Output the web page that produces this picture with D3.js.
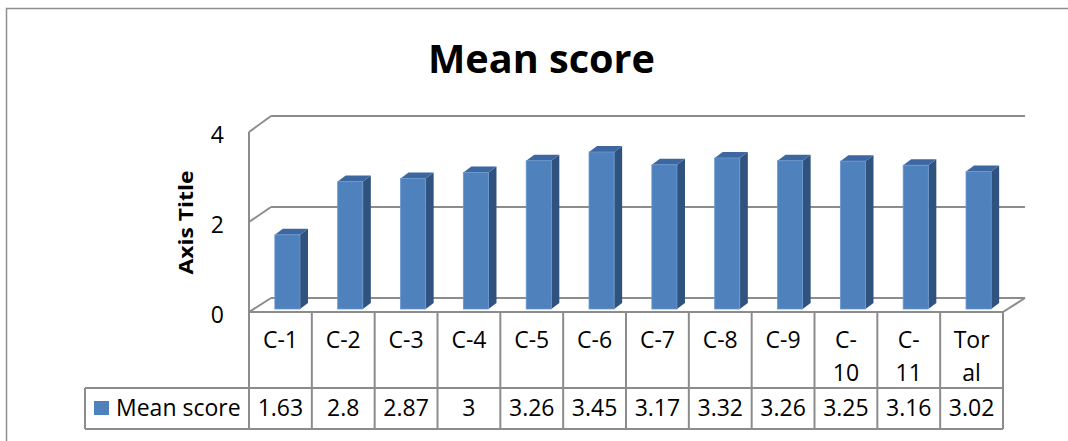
<!DOCTYPE html>
<html><head><meta charset="utf-8">
<script src="https://cdn.jsdelivr.net/npm/d3@7"></script>
<style>html,body{margin:0;padding:0;background:#fff;}svg{display:block;}</style>
</head><body>
<svg id="chart" width="1068" height="441"></svg>
<script>
const categories = ["C-1","C-2","C-3","C-4","C-5","C-6","C-7","C-8","C-9","C-10","C-11","Toral"];
const categoryLabels = ["C-1","C-2","C-3","C-4","C-5","C-6","C-7","C-8","C-9","C-\n10","C-\n11","Tor\nal"];
const meanScore = [1.63, 2.8, 2.87, 3, 3.26, 3.45, 3.17, 3.32, 3.26, 3.25, 3.16, 3.02];
const yTicks = [0, 2, 4];
const seriesName = "Mean score";
const chartTitle = "Mean score";
const axisTitle = "Axis Title";

(function () {
const svg = d3.select("#chart");
const font = "'Open Sans', 'Noto Sans', sans-serif";
const fs = 23;
const gridColor = "#8c8c8c";
const blue = "#4F81BD", sideColor = "#30527F", topColor = "#3D67A1";

svg.append("rect").attr("x", 6.5).attr("y", 8.5).attr("width", 1080).attr("height", 450)
  .attr("fill", "#fff").attr("stroke", "#8f8f8f").attr("stroke-width", 1.5);

const x = d3.scaleBand().domain(categories).range([249, 1003]).padding(0);
const yFront = d3.scaleLinear().domain([0, 4]).range([312, 132]);
const yBack = d3.scaleLinear().domain([0, 4]).range([298, 116]);
const yBar = d3.scaleLinear().domain([0, 4]).range([309, 127]);
const dx = 22;
const xLeft = x.range()[0], xRight = x.range()[1];

const g = svg.append("g").attr("fill", "none").attr("stroke", gridColor).attr("stroke-width", 2);
yTicks.forEach(t => {
  g.append("line").attr("x1", xLeft + dx).attr("x2", xRight + dx).attr("y1", yBack(t)).attr("y2", yBack(t));
  g.append("line").attr("x1", xLeft).attr("y1", yFront(t)).attr("x2", xLeft + dx).attr("y2", yBack(t));
});
g.append("line").attr("x1", xRight).attr("y1", yFront(0)).attr("x2", xRight + dx).attr("y2", yBack(0));
g.append("line").attr("x1", xLeft).attr("x2", xLeft).attr("y1", yFront(4)).attr("y2", 429);

svg.append("g").selectAll("text").data(yTicks).join("text")
  .attr("x", 224).attr("y", d => yFront(d) + 11)
  .attr("text-anchor", "end").attr("font-family", font).attr("font-size", fs).attr("fill", "#000")
  .text(d => d);

svg.append("text").attr("transform", "translate(193,222.5) rotate(-90)")
  .attr("text-anchor", "middle").attr("font-family", font).attr("font-weight", "bold")
  .attr("font-size", 19).attr("textLength", 104).attr("lengthAdjust", "spacingAndGlyphs")
  .text(axisTitle);

svg.append("text").attr("x", 541.5).attr("y", 73).attr("text-anchor", "middle")
  .attr("font-family", font).attr("font-weight", "bold").attr("font-size", 40)
  .attr("textLength", 227).attr("lengthAdjust", "spacingAndGlyphs")
  .text(chartTitle);

const bw = x.bandwidth() * 0.4;
const bdx = 8, bdy = 6;
const bars = svg.append("g").selectAll("g").data(categories).join("g");
bars.each(function (c, i) {
  const v = meanScore[i];
  const x0 = x(c) + x.bandwidth() * 0.3 + 7;
  const x1 = x0 + bw;
  const y0 = yBar(0), y1 = yBar(v);
  const sel = d3.select(this);
  sel.append("polygon").attr("points", [[x1, y1], [x1 + bdx, y1 - bdy], [x1 + bdx, y0 - bdy], [x1, y0]].join(" "))
    .attr("fill", sideColor);
  sel.append("polygon").attr("points", [[x0, y1], [x0 + bdx, y1 - bdy], [x1 + bdx, y1 - bdy], [x1, y1]].join(" "))
    .attr("fill", topColor);
  sel.append("rect").attr("x", x0).attr("y", y1).attr("width", bw).attr("height", y0 - y1)
    .attr("fill", blue).attr("stroke", "#6b98cf").attr("stroke-width", 0.8);
});

const t = svg.append("g").attr("stroke", gridColor).attr("stroke-width", 2).attr("fill", "none");
t.append("line").attr("x1", xLeft).attr("x2", xRight).attr("y1", 312).attr("y2", 312);
t.append("line").attr("x1", 85).attr("x2", xRight).attr("y1", 388).attr("y2", 388);
t.append("line").attr("x1", 85).attr("x2", xRight).attr("y1", 429).attr("y2", 429);
t.append("line").attr("x1", 85).attr("x2", 85).attr("y1", 388).attr("y2", 429);
categories.forEach(c => {
  const xe = x(c) + x.bandwidth();
  t.append("line").attr("x1", xe).attr("x2", xe).attr("y1", 312).attr("y2", 429);
});

const labelsG = svg.append("g").attr("font-family", font).attr("font-size", fs).attr("fill", "#000").attr("text-anchor", "middle");
categories.forEach((c, i) => {
  const cx = x(c) + x.bandwidth() / 2;
  categoryLabels[i].split("\n").forEach((line, j) => {
    labelsG.append("text").attr("x", cx).attr("y", 348 + j * 33).text(line);
  });
  labelsG.append("text").attr("x", cx).attr("y", 416).text(meanScore[i]);
});

svg.append("rect").attr("x", 94).attr("y", 401).attr("width", 15).attr("height", 14).attr("fill", blue);
svg.append("text").attr("x", 116).attr("y", 416).attr("font-family", font).attr("font-size", fs)
  .attr("fill", "#000").text(seriesName);
})();
</script>
</body></html>
